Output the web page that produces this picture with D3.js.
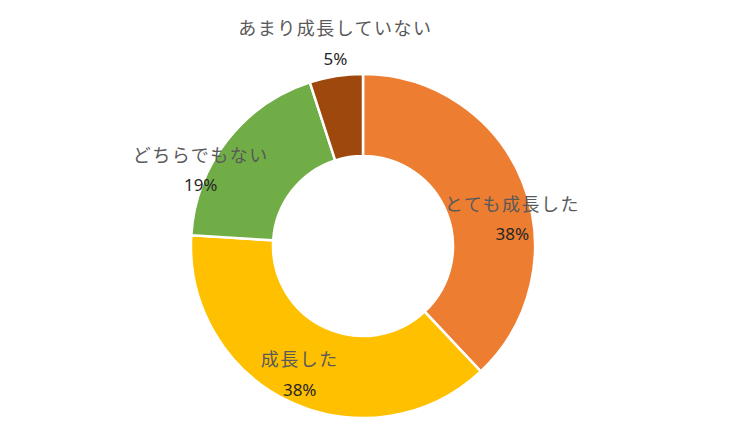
<!DOCTYPE html>
<html>
<head>
<meta charset="utf-8">
<script src="https://cdn.jsdelivr.net/npm/d3@7"></script>
<style>
  body { margin: 0; background: #fff; }
  .cat { font-family: "Noto Sans CJK JP", sans-serif; font-size: 18px; letter-spacing: 1.5px; fill: #595959; }
  .pct { font-family: "Noto Sans", "Open Sans", sans-serif; font-size: 17px; fill: #262626; }
</style>
</head>
<body>
<svg id="chart" width="737" height="439"></svg>
<script>
// data (percent)
var categories = ["とても成長した", "成長した", "どちらでもない", "あまり成長していない"];
var values = [38, 38, 19, 5];
var colors = ["#ED7D31", "#FFC000", "#70AD47", "#9E480E"];

// label placement: radius of label arc and a small hand nudge per slice
var labelRadius = 151;
var labelNudge = [[9, 29], [1, -8], [-43, 17], [-4, -53]];

var svg = d3.select("#chart");
var cx = 363, cy = 246;
var g = svg.append("g").attr("transform", "translate(" + cx + "," + cy + ")");

var pie = d3.pie().sort(null).value(function(d) { return d; });
var arcs = pie(values);

var arc = d3.arc().innerRadius(90).outerRadius(172);
var labelArc = d3.arc().innerRadius(labelRadius).outerRadius(labelRadius);

g.selectAll("path.slice")
  .data(arcs)
  .enter().append("path")
  .attr("class", "slice")
  .attr("d", arc)
  .attr("fill", function(d, i) { return colors[i]; })
  .attr("stroke", "#fff")
  .attr("stroke-width", 2.5);

var labels = g.selectAll("g.lbl")
  .data(arcs)
  .enter().append("g")
  .attr("class", "lbl")
  .attr("transform", function(d, i) {
    var c = labelArc.centroid(d);
    return "translate(" + (c[0] + labelNudge[i][0]) + "," + (c[1] + labelNudge[i][1]) + ")";
  });

labels.append("text")
  .attr("class", "cat")
  .attr("text-anchor", "middle")
  .attr("y", -15)
  .attr("dy", "0.35em")
  .text(function(d, i) { return categories[i]; });

labels.append("text")
  .attr("class", "pct")
  .attr("text-anchor", "middle")
  .attr("y", 15)
  .attr("dy", "0.35em")
  .text(function(d) { return d.data + "%"; });
</script>
</body>
</html>
